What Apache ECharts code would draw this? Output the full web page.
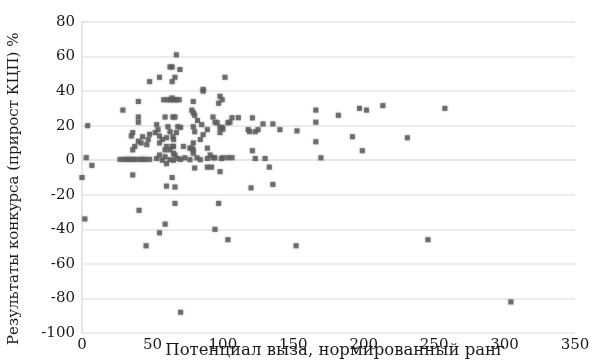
<!DOCTYPE html>
<html><head><meta charset="utf-8">
<script src="https://cdn.jsdelivr.net/npm/echarts@6/dist/echarts.min.js"></script>
<style>html,body{margin:0;padding:0;background:#fff}#c{width:595px;height:361px}</style>
</head><body><div id="c"></div>
<script>
const xAxisTitle = 'Потенциал выза, нормированный ранг';
const yAxisTitle = 'Результаты конкурса (прирост КЦП) %';
const xTicks = [0, 50, 100, 150, 200, 250, 300, 350];
const yTicks = [-100, -80, -60, -40, -20, 0, 20, 40, 60, 80];

// Potential (normalized rank)
const potential = [
 4,3,7,0,2,
 29,40,40,40,36,35,43,40,37.5,36,48,42,46,47,
 27,30,32,34,36,38,41,43,45,48,36,40.5,45.5,48,55,
 53,54,52,55,57,55,59,62.5,60,61,62.5,60,64.5,59,66,68,67,64.5,65,65,65,64,66,62.5,59,57,65,60,64,60,66,66,59,55,70,
 58,61,63,65,67,69,64,
 67,64,69.5,62.5,66,64,
 70,72,68,70,53,55,
 78,80,79,82,79,86,86,98,99.5,97,101.5,93,
 79,80,85,89,86,84,94.5,98,100,96,99.5,98,103.6,106.5,111,105,
 79,78,76.6,79,73,76.6,81.6,84,89,93,99,103.6,106.5,89,91,94.4,100,79,
 80,89,92,98,
 97,94.4,103.6,
 118,119,123,125,121,128.5,135.5,140.5,152.6,166,166,182,197,202,213.6,166,192,199,169.6,121,123,130,133,120,135.5,152,245.6,304.5,257.6,231
];
// Contest result (growth of admission quota), %
const result = [
 20,1.5,-3,-10,-34,
 29,34,25,22,16,14,13.6,11,8,6,15,10,9,12,
 0.5,0.5,0.5,0.5,0.5,0.5,0.5,0.5,0.5,0.5,-8.5,-29,-49.5,45.5,48,
 20.6,17.7,16,14,12,10,6,6,8,19.4,16.5,13,25,25,25,19.4,16,13.6,12,8,4,8,3,0.3,2,0,0,-2,-10,-15,-15.5,-25,-37,-42,-88,
 35,35,35,35,35,35,36,
 61,54,52.5,54,48,45.5,
 19,8,1,0.5,1,3,
 29,26,27.5,23,34,40,41,37,35,33,48,25,
 19.4,16.5,20.6,17.7,14.8,12,22,19,18,21.7,19,16,21.7,24.6,24.6,22,
 10,7,7,4,1.4,0.3,1.4,0.3,1,1.5,1,1.5,1.5,7,3,1.4,1.4,6,
 -4.5,-4,-4,-6.6,
 -25,-40,-46,
 17.7,16.5,16.5,17.7,24.5,21,21,17.7,17,29,22,26,30,29,31.6,10.7,13.6,5.5,1.4,5.5,1,1,-4,-16,-14,-49.5,-46,-82,30,13
];

const points = potential.map((x, i) => [x, result[i]]);
const serif = 'DejaVu Serif';
const chart = echarts.init(document.getElementById('c'), null, {renderer: 'canvas'});
chart.setOption({
  animation: false,
  backgroundColor: '#fff',
  grid: {left: 82, right: 20, top: 22, bottom: 28, containLabel: false},
  xAxis: {
    type: 'value', min: xTicks[0], max: xTicks[xTicks.length - 1], interval: 50,
    axisLine: {show: true, onZero: true, lineStyle: {color: '#e6e6e6', width: 2}},
    axisTick: {show: false},
    splitLine: {show: false},
    axisLabel: {fontFamily: serif, fontSize: 15, color: '#1a1a1a', margin: 5}
  },
  yAxis: {
    type: 'value', min: yTicks[0], max: yTicks[yTicks.length - 1], interval: 20,
    axisLine: {show: true, lineStyle: {color: '#e6e6e6', width: 2}},
    axisTick: {show: false},
    splitLine: {show: true, lineStyle: {color: '#ececec', width: 2}},
    axisLabel: {fontFamily: serif, fontSize: 15, color: '#1a1a1a', margin: 7}
  },
  graphic: [
    {type: 'text', x: 335, y: 351, style: {text: xAxisTitle, font: '16.5px "DejaVu Serif"', fill: '#1a1a1a', textAlign: 'center', textVerticalAlign: 'middle'}},
    {type: 'text', x: 7, y: 345, rotation: Math.PI / 2, style: {text: yAxisTitle, font: '15px "DejaVu Serif"', fill: '#1a1a1a'}}
  ],
  series: [{
    type: 'scatter',
    data: points,
    symbol: 'rect',
    symbolSize: 5,
    itemStyle: {color: '#5e5e5e', shadowBlur: 2, shadowColor: 'rgba(80,80,80,0.7)'}
  }]
});
</script>
</body></html>
